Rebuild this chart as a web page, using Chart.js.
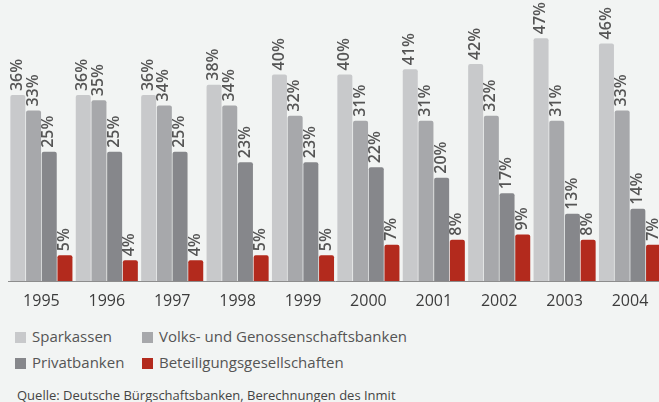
<!DOCTYPE html>
<html>
<head>
<meta charset="utf-8">
<script src="https://cdn.jsdelivr.net/npm/chart.js@4"></script>
<style>
  html, body { margin: 0; padding: 0; background: #f2f4f3; overflow: hidden; }
  body { width: 659px; height: 402px; position: relative; font-family: "Open Sans", sans-serif; }
  #wrap { position: absolute; left: 0; top: 0; width: 665px; height: 313px; }
  .legend { position: absolute; left: 15px; top: 326px; color: #555; font-size: 15px; }
  .legend .item { position: absolute; white-space: nowrap; line-height: 20px; }
  .legend .sw { display: inline-block; width: 11px; height: 11px; margin-right: 6px; vertical-align: -1px; }
  .source { position: absolute; left: 17px; top: 386px; font-size: 13px; color: #444; }
</style>
</head>
<body>
<div id="wrap"><canvas id="chart"></canvas></div>
<div class="legend" id="legend"></div>
<div class="source">Quelle: Deutsche Bürgschaftsbanken, Berechnungen des Inmit</div>
<script>
// Jahre
const years = ['1995', '1996', '1997', '1998', '1999', '2000', '2001', '2002', '2003', '2004'];

// Anteile in Prozent
const sparkassen = [36, 36, 36, 38, 40, 40, 41, 42, 47, 46];
const volksbanken = [33, 35, 34, 34, 32, 31, 31, 32, 31, 33];
const privatbanken = [25, 25, 25, 23, 23, 22, 20, 17, 13, 14];
const beteiligung = [5, 4, 4, 5, 5, 7, 8, 9, 8, 7];

const seriesNames = ['Sparkassen', 'Volks- und Genossenschaftsbanken', 'Privatbanken', 'Beteiligungsgesellschaften'];
const seriesColors = ['#c8c9cb', '#a7a8ab', '#86878b', '#b32a1d'];

// Prozent-Beschriftung senkrecht über jedem Balken
const valueLabels = {
    id: 'valueLabels',
    afterDatasetsDraw(chart) {
        const ctx = chart.ctx;
        ctx.save();
        ctx.font = '600 16px "Open Sans"';
        ctx.fillStyle = '#555';
        ctx.textAlign = 'left';
        ctx.textBaseline = 'middle';
        chart.data.datasets.forEach((ds, i) => {
            chart.getDatasetMeta(i).data.forEach((bar, j) => {
                ctx.save();
                ctx.translate(bar.x - 0.5, bar.y - 4);
                ctx.rotate(-Math.PI / 2);
                ctx.fillText(ds.data[j] + '%', 0, 0);
                ctx.restore();
            });
        });
        ctx.restore();
    }
};

const datasets = [sparkassen, volksbanken, privatbanken, beteiligung].map((values, i) => ({
    label: seriesNames[i],
    data: values,
    backgroundColor: seriesColors[i],
    borderRadius: 2,
    categoryPercentage: 0.96,
    barPercentage: 0.955
}));

new Chart(document.getElementById('chart'), {
    type: 'bar',
    data: { labels: years, datasets: datasets },
    options: {
        responsive: true,
        maintainAspectRatio: false,
        animation: false,
        layout: { padding: { left: 8.7, right: 2.3, top: 0, bottom: 0 } },
        plugins: {
            legend: { display: false },
            tooltip: { enabled: false }
        },
        scales: {
            x: {
                afterFit: (axis) => { axis.height = 32; }, // Grundlinie bei y = 281
                grid: { display: false, drawTicks: false },
                border: { display: true, color: '#8d8d8d', width: 1 },
                ticks: {
                    color: '#3c3c3c',
                    padding: 11,
                    font: { family: 'Open Sans', size: 16 }
                }
            },
            y: {
                display: false,
                min: 0,
                max: 54.4
            }
        }
    },
    plugins: [valueLabels]
});

// Legende in zwei Spalten
const legend = document.getElementById('legend');
const pos = [[0, 0], [127, 0], [0, 26], [127, 26]];
seriesNames.forEach((name, i) => {
    const item = document.createElement('div');
    item.className = 'item';
    item.style.left = pos[i][0] + 'px';
    item.style.top = pos[i][1] + 'px';
    item.innerHTML = '<span class="sw" style="background:' + seriesColors[i] + '"></span>' + name;
    legend.appendChild(item);
});
</script>
</body>
</html>
